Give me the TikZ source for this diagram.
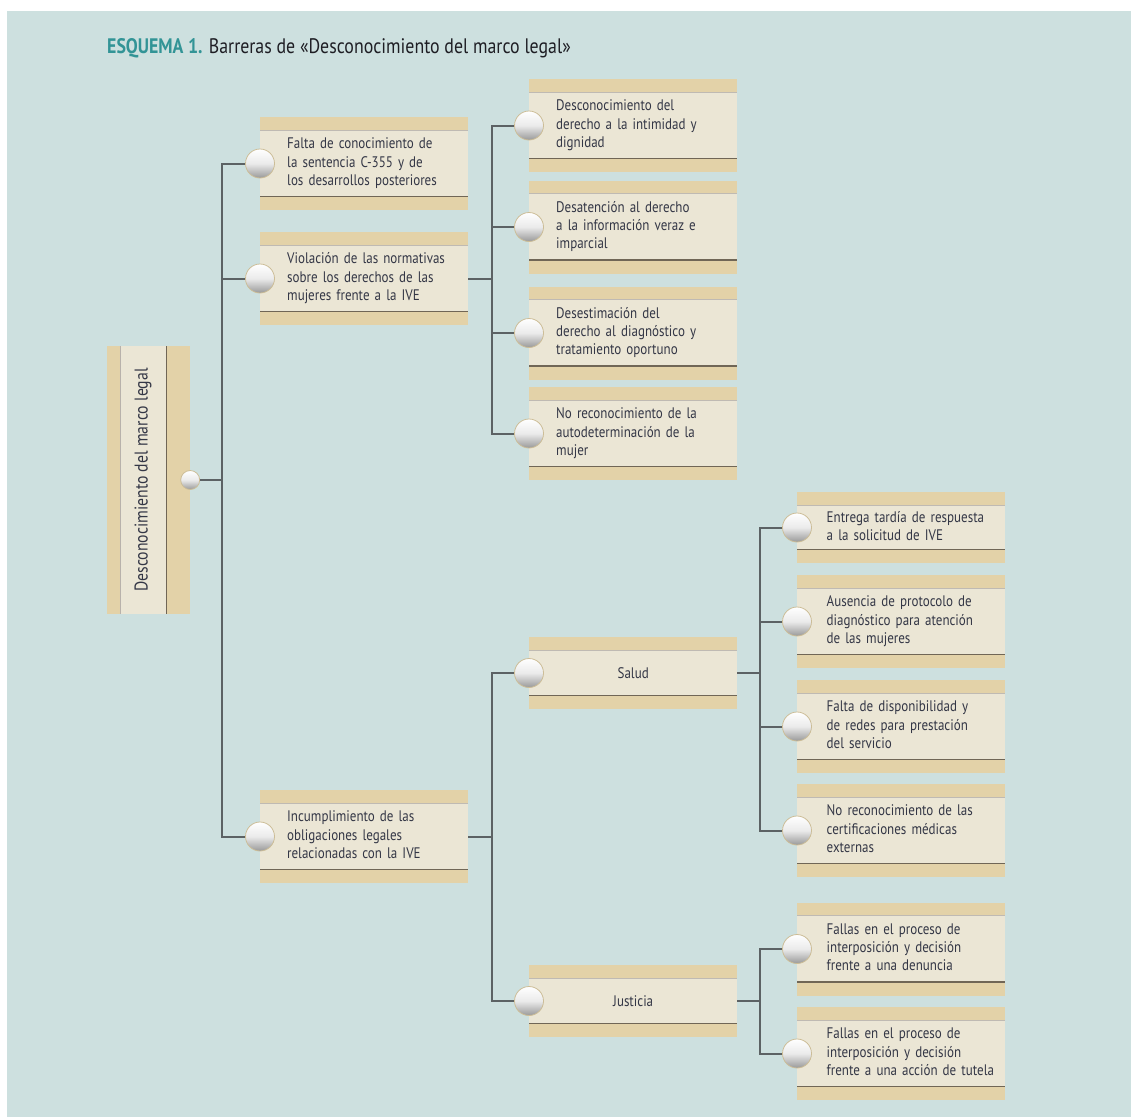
\documentclass[tikz,border=0pt]{standalone}
\usepackage{fontspec}
\setmainfont{PT Sans}[FakeStretch=0.85]
\usetikzlibrary{positioning}
\definecolor{mybg}{RGB}{205,224,223}
\definecolor{mytan}{RGB}{227,210,168}
\definecolor{mycream}{RGB}{235,230,213}
\definecolor{myrule}{RGB}{112,102,86}
\definecolor{mywire}{RGB}{92,98,100}
\definecolor{mytext}{RGB}{52,55,70}
\definecolor{myteal}{RGB}{50,148,150}
\definecolor{mytitle}{RGB}{30,30,36}
\newcommand{\widthcell}{208pt}
\newcommand{\heightcell}{93pt}
\newcommand{\celltext}[2]{\hspace*{#1}\begin{tabular}{@{}l@{}}#2\end{tabular}}
\tikzset{
    common/.style={anchor=west, inner sep=0pt, fill=mytan, text=mytext, font=\fontsize{15.3}{18.3}\selectfont},
    cell/.style={common, minimum width=\widthcell, minimum height=\heightcell, text width=195pt, inner xsep=6.5pt, align=left,
        path picture={
            \fill[mycream] ([yshift=-13pt]path picture bounding box.north west) rectangle ([yshift=13.5pt]path picture bounding box.south east);
            \draw[myrule!45, line width=0.6pt] ([yshift=-13pt]path picture bounding box.north west) -- ([yshift=-13pt]path picture bounding box.north east);
            \draw[myrule, line width=1.8pt] ([yshift=13.5pt]path picture bounding box.south west) -- ([yshift=13.5pt]path picture bounding box.south east);
        }
    },
    shortcell/.style={cell, minimum height=71pt},
    rootcell/.style={common, anchor=center, minimum width=83pt, minimum height=268pt, font=\fontsize{18.5}{22}\selectfont,
        path picture={
            \fill[mycream] ([xshift=13pt]path picture bounding box.north west) rectangle ([xshift=60pt]path picture bounding box.south west);
            \draw[myrule!50, line width=0.8pt] ([xshift=13pt]path picture bounding box.north west) -- ([xshift=13pt]path picture bounding box.south west);
            \draw[myrule, line width=1.8pt] ([xshift=59.5pt]path picture bounding box.north west) -- ([xshift=59.5pt]path picture bounding box.south west);
        }
    },
    knob/.style={circle, draw=mytan!90!black, line width=0.8pt, minimum size=29pt, inner sep=0pt,
        top color=white, bottom color=black!40, middle color=black!8},
    smallknob/.style={knob, minimum size=19pt},
    wire/.style={draw=mywire, line width=2pt}
}

\begin{document}
\begin{tikzpicture}[x=1pt, y=-1pt]
    \useasboundingbox (0,0) rectangle (1131,1117);
    \fill[white] (0,0) rectangle (1131,1117);
    \fill[mybg] (7,11) rectangle (1131,1117);

    \node[anchor=base west, inner sep=0pt, text=mytitle, font=\fontsize{21}{24}\selectfont] (title) at (107,53)
        {\textcolor{myteal}{\bfseries ESQUEMA 1.} Barreras de «Desconocimiento del marco legal»};

    % root
    \node[rootcell] (root) at (148.5,480) {\hspace*{-5.5pt}\rotatebox{90}{Desconocimiento del marco legal}\hspace*{5.5pt}};
    \node[smallknob] (root-k) at (root.east) {};

    % first level
    \node[cell] (f1) at (260,163.5) {\celltext{20.5pt}{Falta de conocimiento de\\la sentencia C-355 y de\\los desarrollos posteriores}};
    \node[cell] (f2) at (260,278.5) {\celltext{20.5pt}{Violación de las normativas\\sobre los derechos de las\\mujeres frente a la IVE}};
    \node[cell] (f3) at (260,836.5) {\celltext{20.5pt}{Incumplimiento de las\\obligaciones legales\\relacionadas con la IVE}};

    % second level
    \node[cell] (a1) at (529,125.5) {\celltext{20.5pt}{Desconocimiento del\\derecho a la intimidad y\\dignidad}};
    \node[cell] (a2) at (529,227) {\celltext{20.5pt}{Desatención al derecho\\a la información veraz e\\imparcial}};
    \node[cell] (a3) at (529,333) {\celltext{20.5pt}{Desestimación del\\derecho al diagnóstico y\\tratamiento oportuno}};
    \node[cell] (a4) at (529,433.5) {\celltext{20.5pt}{No reconocimiento de la\\autodeterminación de la\\mujer}};
    \node[cell, minimum height=72pt, align=center] (salud) at (529,673) {Salud};
    \node[cell, minimum height=72pt, align=center] (justicia) at (529,1001) {Justicia};

    % third level
    \node[shortcell] (e1) at (797,527.5) {\celltext{23pt}{Entrega tardía de respuesta\\a la solicitud de IVE}};
    \node[cell] (e2) at (797,621.5) {\celltext{23pt}{Ausencia de protocolo de\\diagnóstico para atención\\de las mujeres}};
    \node[cell] (e3) at (797,726.5) {\celltext{23pt}{Falta de disponibilidad y\\de redes para prestación\\del servicio}};
    \node[cell] (e4) at (797,830.5) {\celltext{23pt}{No reconocimiento de las\\certificaciones médicas\\externas}};
    \node[cell] (j1) at (797,949) {\celltext{23pt}{Fallas en el proceso de\\interposición y decisión\\frente a una denuncia}};
    \node[cell] (j2) at (797,1053.5) {\celltext{23pt}{Fallas en el proceso de\\interposición y decisión\\frente a una acción de tutela}};

    \foreach \n in {f1,f2,f3,a1,a2,a3,a4,salud,justicia,e1,e2,e3,e4,j1,j2}
        \node[knob] (\n-k) at (\n.west) {};

    % junctions
    \coordinate (t0) at (222,480);
    \coordinate[right=24pt of f2.east] (t1);
    \coordinate[right=24pt of f3.east] (t2);
    \coordinate[right=23pt of salud.east] (t3);
    \coordinate[right=23pt of justicia.east] (t4);

    \draw[wire] (root-k) -- (t0);
    \draw[wire] (t0) |- (f1-k) (t0) |- (f2-k) (t0) |- (f3-k);
    \draw[wire] (f2) -- (t1);
    \draw[wire] (t1) |- (a1-k) (t1) |- (a2-k) (t1) |- (a3-k) (t1) |- (a4-k);
    \draw[wire] (f3) -- (t2);
    \draw[wire] (t2) |- (salud-k) (t2) |- (justicia-k);
    \draw[wire] (salud) -- (t3);
    \draw[wire] (t3) |- (e1-k) (t3) |- (e2-k) (t3) |- (e3-k) (t3) |- (e4-k);
    \draw[wire] (justicia) -- (t4);
    \draw[wire] (t4) |- (j1-k) (t4) |- (j2-k);
\end{tikzpicture}
\end{document}
